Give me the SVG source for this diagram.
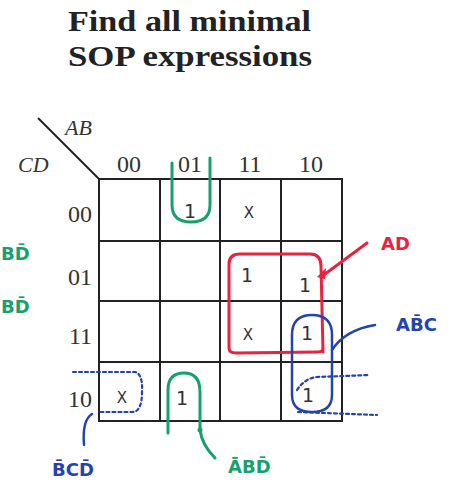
<svg xmlns="http://www.w3.org/2000/svg" width="450" height="485" viewBox="0 0 450 485">
<style>
.title{font-family:"Liberation Serif",serif;font-weight:bold;font-size:29px;fill:#222}
.lbl{font-family:"Liberation Serif",serif;font-size:24px;fill:#333}
.var{font-family:"Liberation Serif",serif;font-style:italic;font-size:22px;fill:#333}
.grid{stroke:#222;stroke-width:2;fill:none}
.x{font-family:"DejaVu Sans",sans-serif;font-size:15px;fill:#333;text-anchor:middle}
.one{font-family:"DejaVu Sans",sans-serif;font-size:19px;fill:#333;text-anchor:middle}
.hand{font-family:"DejaVu Sans",sans-serif;font-size:18px;font-weight:bold}
.g{stroke:#17a06c;fill:none;stroke-width:3;stroke-linecap:round;stroke-linejoin:round}
.r{stroke:#e8233d;fill:none;stroke-width:3;stroke-linecap:round;stroke-linejoin:round}
.b{stroke:#2443ad;fill:none;stroke-width:2.5;stroke-linecap:round;stroke-linejoin:round}
.bd{stroke:#2443ad;fill:none;stroke-width:2.2;stroke-dasharray:3 3;stroke-linecap:round}
</style>
<rect width="450" height="485" fill="#fff"/>
<g id="title">
<text class="title" x="68" y="31" textLength="243" lengthAdjust="spacingAndGlyphs">Find all minimal</text>
<text class="title" x="68" y="66" textLength="244" lengthAdjust="spacingAndGlyphs">SOP expressions</text>
</g>
<g id="kmap">
<line class="grid" x1="38" y1="118" x2="99" y2="179"/>
<text class="var" x="65" y="135">AB</text>
<text class="var" x="18" y="172">CD</text>
<g class="lbl" text-anchor="middle">
<text x="129" y="172">00</text>
<text x="190" y="172">01</text>
<text x="250" y="172">11</text>
<text x="311" y="172">10</text>
</g>
<g class="lbl" text-anchor="end">
<text x="92" y="222">00</text>
<text x="92" y="285">01</text>
<text x="92" y="344">11</text>
<text x="92" y="407">10</text>
</g>
<path class="grid" d="M99,179H342V421H99Z M160,179V421 M220,179V421 M281,179V421 M99,241H342 M99,301H342 M99,362H342"/>
</g>
<g id="cells">
<text class="one" x="190" y="218">1</text>
<text class="x" x="249" y="218">X</text>
<text class="one" x="247" y="282">1</text>
<text class="one" x="305" y="292">1</text>
<text class="x" x="248" y="340">X</text>
<text class="one" x="307" y="340">1</text>
<text class="x" x="122" y="403">X</text>
<text class="one" x="182" y="405">1</text>
<text class="one" x="308" y="402">1</text>
</g>
<g id="connectors">
<path class="g" d="M172,163 L172,205 Q172,222 191,222 Q210,222 210,205 L210,158"/>
<path class="g" d="M168,433 L168,390 Q168,373 184,373 Q200,373 200,392 L200,430 Q202,445 215,458"/>
<circle cx="200" cy="430" r="2.5" fill="#17a06c"/>
<path class="r" d="M240,254 H310 Q321,254 321,266 L323,352 M229,264 Q229,254 240,254 M229,264 V348 Q229,353 236,353 L318,352 Q324,352 323,346"/>
<path class="r" d="M321,277 L367,243"/>
<path d="M317,277 L326,268 L325,279 Z" fill="#e8233d"/>
<path class="b" d="M312,315 Q332,315 332,335 L332,395 Q332,412 312,412 Q292,412 292,395 L292,335 Q292,315 312,315 Z"/>
<path class="b" d="M332,350 Q345,330 375,325"/>
<path class="bd" d="M297,390 Q305,378 317,377 L370,375"/>
<path class="bd" d="M298,412 L377,415"/>
<path class="bd" d="M73,372 L135,372 Q143,374 142,392 Q142,412 132,412 L98,412"/>
<path class="b" d="M92,414 Q82,420 84,445"/>
</g>
<g id="labels">
<text class="hand" x="381" y="250" fill="#e8233d">AD</text>
<text class="hand" x="396" y="331" fill="#2443ad">AB&#x0304;C</text>
<text class="hand" x="52" y="476" fill="#2443ad">B&#x0304;CD&#x0304;</text>
<text class="hand" x="228" y="473" fill="#17a06c">A&#x0304;BD&#x0304;</text>
<text class="hand" x="1" y="260" fill="#17a06c">BD&#x0304;</text>
<text class="hand" x="1" y="313" fill="#17a06c">BD&#x0304;</text>
</g>
</svg>
